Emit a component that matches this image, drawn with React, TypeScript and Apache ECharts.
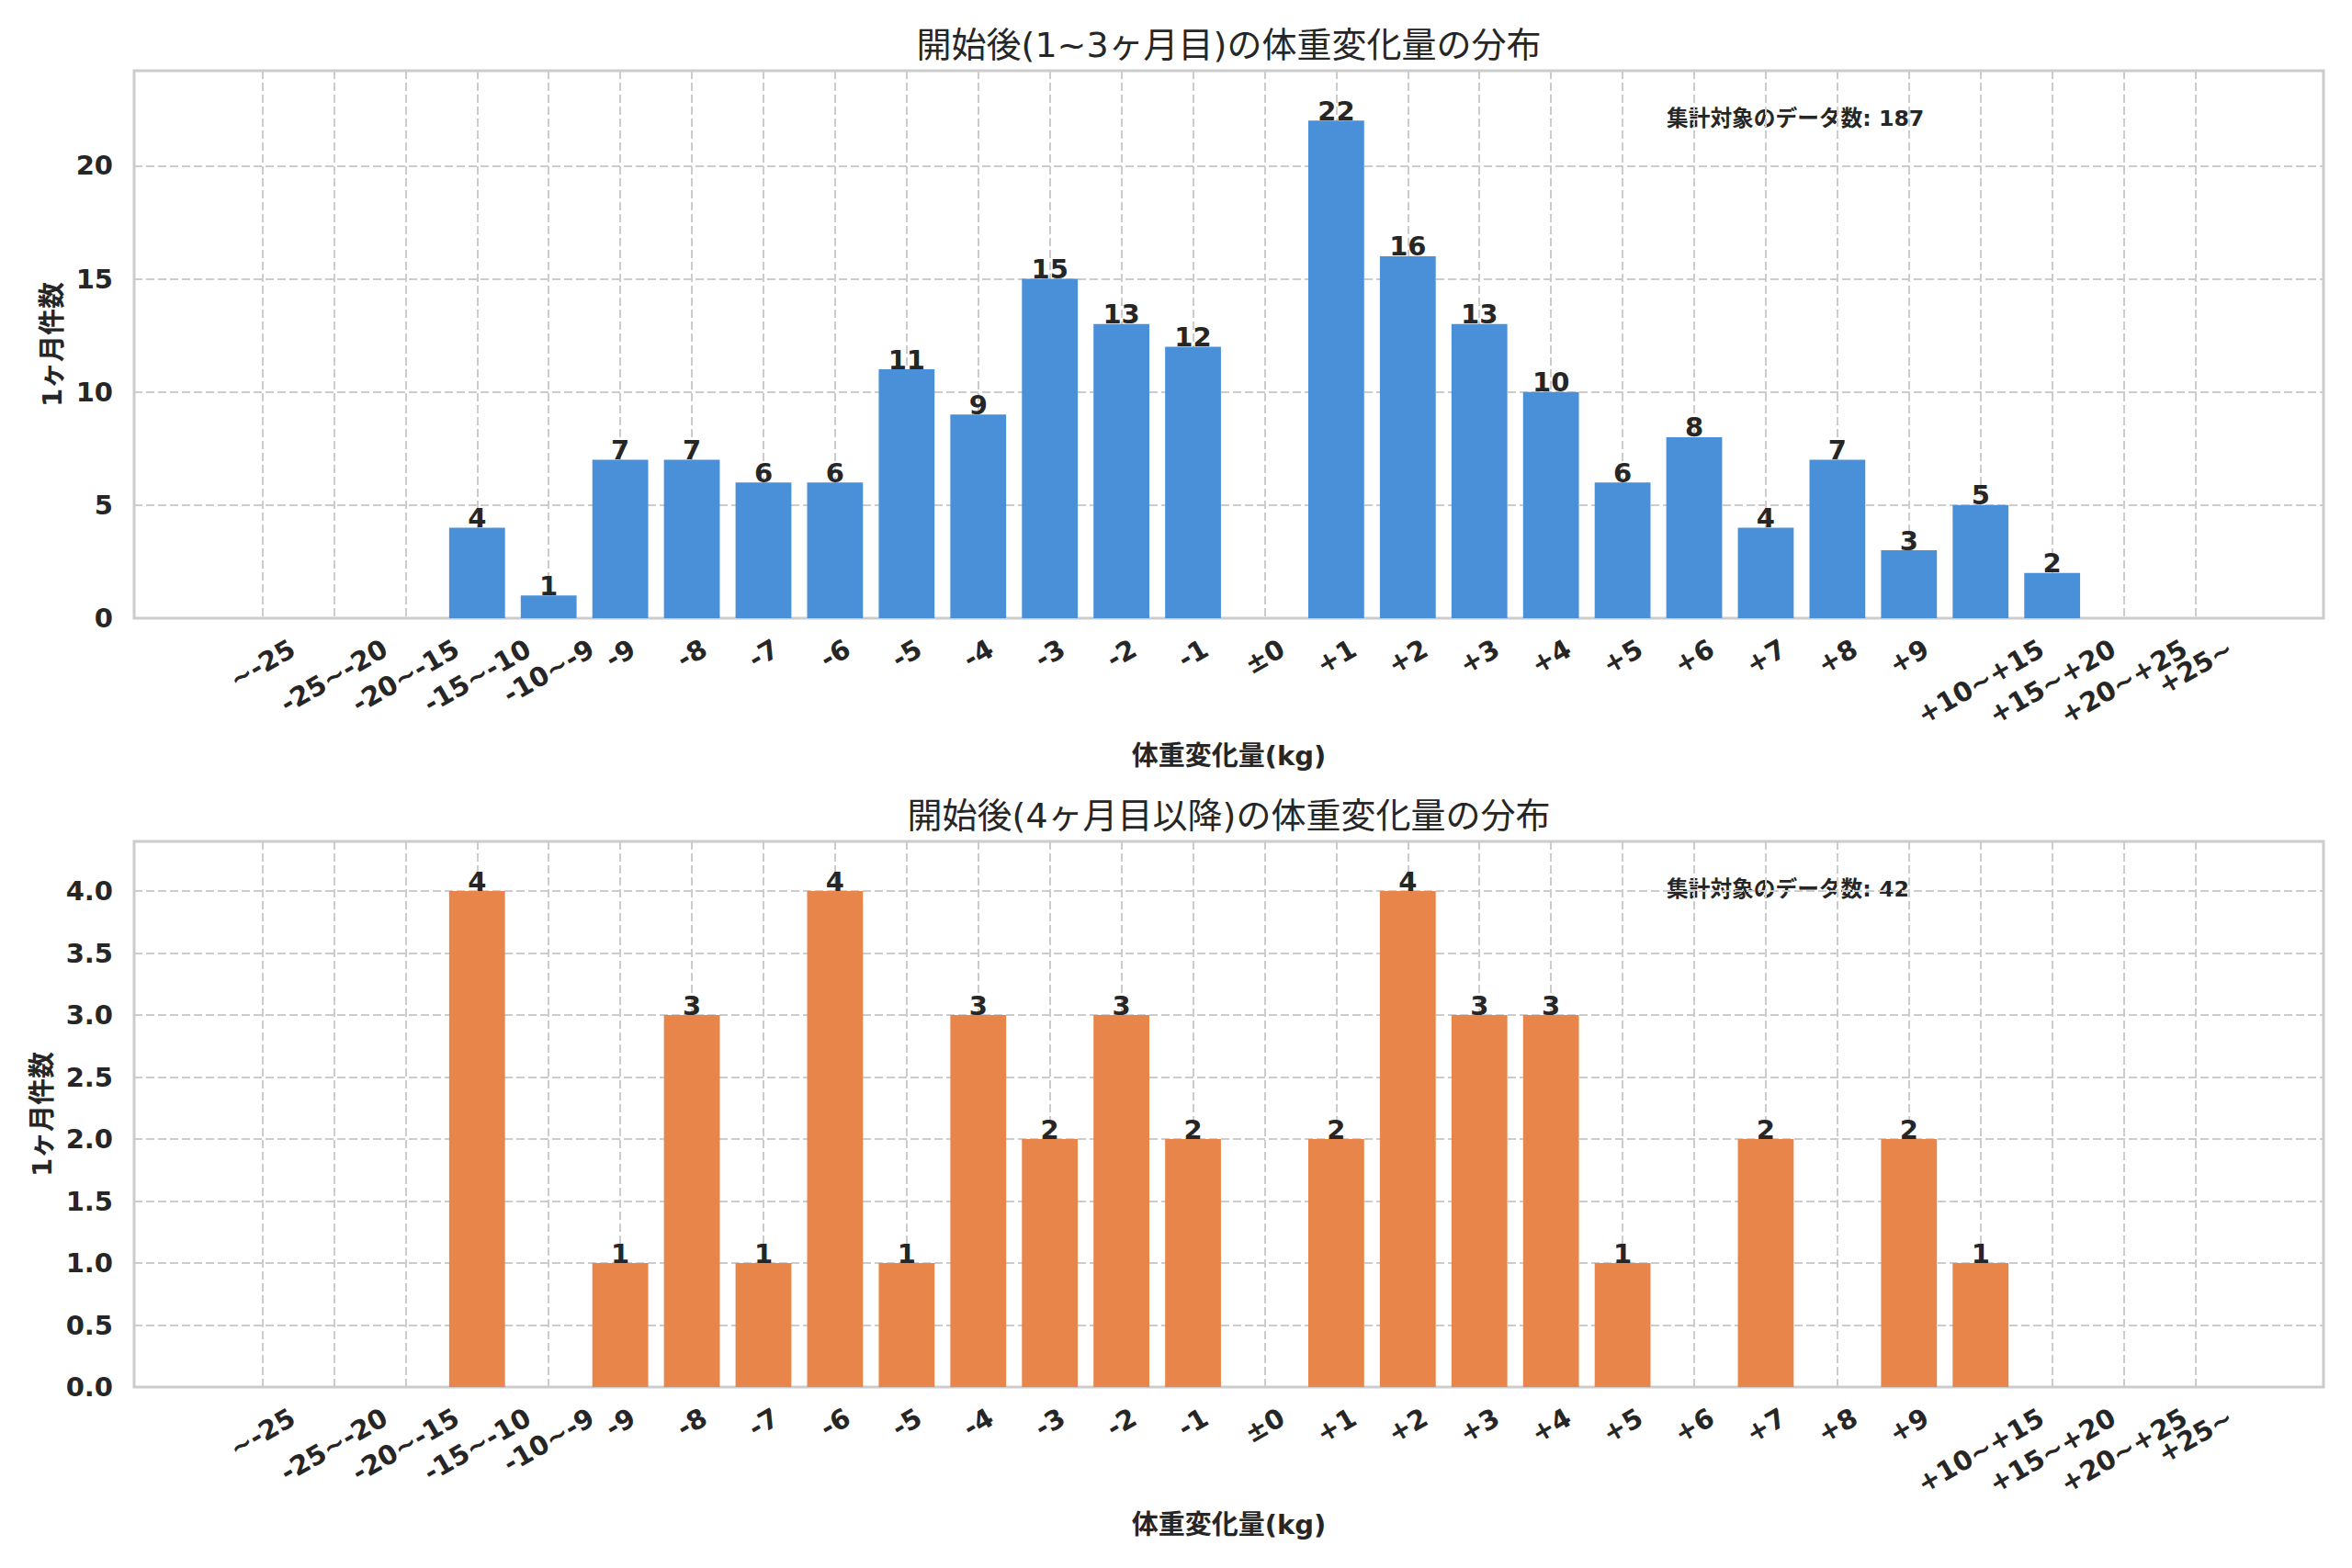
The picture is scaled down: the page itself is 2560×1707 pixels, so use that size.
import React, { useEffect, useRef } from 'react';
import * as echarts from 'echarts';

// ---- data ----
const categories = [
  '~-25', '-25~-20', '-20~-15', '-15~-10', '-10~-9',
  '-9', '-8', '-7', '-6', '-5', '-4', '-3', '-2', '-1',
  '±0',
  '+1', '+2', '+3', '+4', '+5', '+6', '+7', '+8', '+9',
  '+10~+15', '+15~+20', '+20~+25', '+25~',
];
const shortTermCounts = [0, 0, 0, 4, 1, 7, 7, 6, 6, 11, 9, 15, 13, 12, 0, 22, 16, 13, 10, 6, 8, 4, 7, 3, 5, 2, 0, 0];
const longTermCounts = [0, 0, 0, 4, 0, 1, 3, 1, 4, 1, 3, 2, 3, 2, 0, 2, 4, 3, 3, 1, 0, 2, 0, 2, 1, 0, 0, 0];
const yTicksTop = [0, 5, 10, 15, 20];
const yTicksBottom = [0, 0.5, 1.0, 1.5, 2.0, 2.5, 3.0, 3.5, 4.0];

const titleTop = '開始後(1~3ヶ月目)の体重変化量の分布';
const titleBottom = '開始後(4ヶ月目以降)の体重変化量の分布';
const xAxisName = '体重変化量(kg)';
const yAxisName = '1ヶ月件数';
const totalLabel = '集計対象のデータ数';

// ---- style / layout ----
const FONT = '"DejaVu Sans", "Noto Sans CJK JP", sans-serif';
const TEXT = '#262626';
const GRID_LINE = '#cccccc';
const BLUE = '#4a90d9';
const ORANGE = '#e8854a';
const X_MIN = -1.79;
const X_MAX = 28.79;
const PLOT_LEFT = 146;
const PLOT_WIDTH = 2383;
const panels = [
  { top: 77, height: 596, counts: shortTermCounts, color: BLUE, yMax: 24.2, ticks: yTicksTop, title: titleTop, nameGap: 71, fmt: (v: number) => String(v) },
  { top: 916, height: 594, counts: longTermCounts, color: ORANGE, yMax: 4.4, ticks: yTicksBottom, title: titleBottom, nameGap: 82, fmt: (v: number) => v.toFixed(1) },
];

const TICK_FONT = `bold 29px ${FONT}`;

export default function App() {
  const ref = useRef<HTMLDivElement>(null);
  useEffect(() => {
    if (!ref.current) return;
    const canvas = document.createElement('canvas');
    const ctx = canvas.getContext('2d')!;
    ctx.font = TICK_FONT;
    const labelWidths = categories.map((c) => ctx.measureText(c).width);

    const chart = echarts.init(ref.current, undefined, { renderer: 'svg' });
    const xTicks = categories.map((_, i) => i);
    const barWidth = (0.78 * PLOT_WIDTH) / (X_MAX - X_MIN);

    const grids: any[] = [];
    const xAxes: any[] = [];
    const yAxes: any[] = [];
    const series: any[] = [];
    const graphics: any[] = [];

    panels.forEach((p, k) => {
      grids.push({
        left: PLOT_LEFT, top: p.top, width: PLOT_WIDTH, height: p.height,
        show: true, borderColor: GRID_LINE, borderWidth: 3, backgroundColor: 'transparent',
        containLabel: false, outerBoundsMode: 'none',
      });
      xAxes.push({
        type: 'value', gridIndex: k, min: X_MIN, max: X_MAX,
        axisLine: { show: false },
        axisTick: { show: false, customValues: xTicks },
        axisLabel: { show: false, customValues: xTicks },
        splitLine: { show: true, lineStyle: { color: GRID_LINE, type: [9, 4], width: 2 } },
        name: xAxisName, nameLocation: 'middle', nameGap: 135,
        nameTextStyle: { fontFamily: FONT, fontWeight: 'bold', fontSize: 29, color: TEXT },
      });
      yAxes.push({
        type: 'value', gridIndex: k, min: 0, max: p.yMax,
        axisLine: { show: false },
        axisTick: { show: false, customValues: p.ticks },
        axisLabel: {
          customValues: p.ticks, formatter: p.fmt, margin: 23,
          fontFamily: FONT, fontWeight: 'bold', fontSize: 29, color: TEXT,
        },
        splitLine: { show: true, lineStyle: { color: GRID_LINE, type: [9, 4], width: 2 } },
        name: yAxisName, nameLocation: 'middle', nameRotate: 90, nameGap: p.nameGap,
        nameTextStyle: { fontFamily: FONT, fontWeight: 'bold', fontSize: 29, color: TEXT },
      });
      series.push({
        type: 'bar', xAxisIndex: k, yAxisIndex: k,
        data: p.counts.map((v, i) => [i, v]),
        barWidth,
        itemStyle: { color: p.color },
        label: {
          show: true, position: 'top', distance: -4,
          formatter: (d: any) => (d.value[1] > 0 ? String(d.value[1]) : ''),
          fontFamily: FONT, fontWeight: 'bold', fontSize: 29, color: TEXT,
        },
      });
      series.push({
        type: 'custom', xAxisIndex: k, yAxisIndex: k, silent: true, clip: false,
        data: categories.map((_, i) => [i, 0]),
        encode: { x: 0, y: 1 },
        renderItem: (_params: any, api: any) => {
          const i = api.value(0);
          const pt = api.coord([i, 0]);
          const d = labelWidths[i] * 0.25;
          return {
            type: 'text',
            x: pt[0], y: pt[1] + 30.8 + d,
            rotation: Math.PI / 6,
            style: {
              text: categories[i], font: TICK_FONT, fill: TEXT,
              align: 'center', verticalAlign: 'middle',
            },
          };
        },
      });
      graphics.push({
        type: 'text', x: PLOT_LEFT + PLOT_WIDTH / 2, y: p.top - 28,
        style: { text: p.title, font: `38px ${FONT}`, fill: TEXT, align: 'center', verticalAlign: 'middle' },
      });
      const total = p.counts.reduce((a, b) => a + b, 0);
      graphics.push({
        type: 'text', x: 1814, y: p.top + 52,
        style: { text: `${totalLabel}: ${total}`, font: `bold 23.7px ${FONT}`, fill: TEXT, align: 'left', verticalAlign: 'middle' },
      });
    });

    chart.setOption({
      animation: false,
      backgroundColor: '#ffffff',
      grid: grids,
      xAxis: xAxes,
      yAxis: yAxes,
      series,
      graphic: graphics,
    });
    return () => chart.dispose();
  }, []);
  return <div ref={ref} style={{ position: 'absolute', left: 0, top: 0, width: 2560, height: 1707 }} />;
}
